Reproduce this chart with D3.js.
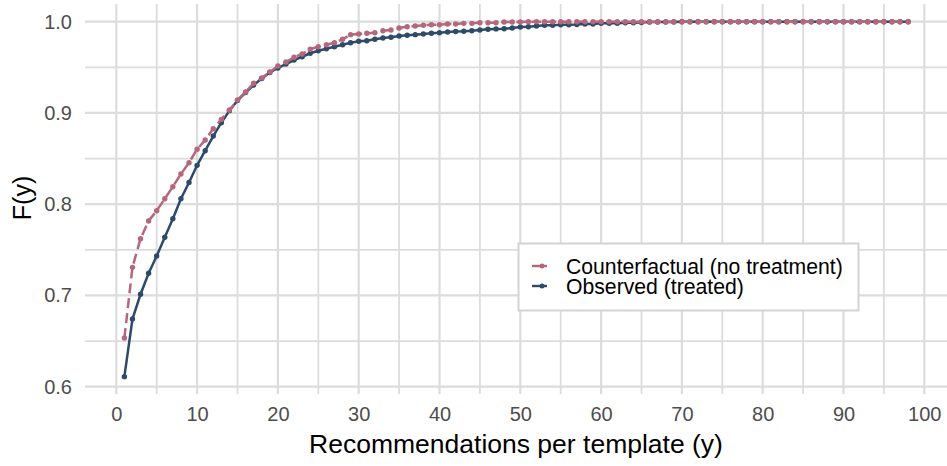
<!DOCTYPE html>
<html><head><meta charset="utf-8">
<script src="https://cdn.jsdelivr.net/npm/d3@7/dist/d3.min.js"></script>
<style>
html,body{margin:0;padding:0;background:#fff;}
svg{display:block;font-family:"Liberation Sans",Arial,Helvetica,sans-serif;}
</style></head>
<body><svg id="c" width="947" height="466"></svg>
<script>
// ---- data ----
const yValues = d3.range(1, 99); // recommendations per template 1..98
const counterfactual = [
0.6534,0.7308,0.7622,0.7816,0.7929,0.8060,0.8192,0.8331,0.8455,0.8602,
0.8704,0.8827,0.8930,0.9032,0.9142,0.9230,0.9325,0.9383,0.9449,0.9515,
0.9558,0.9610,0.9646,0.9698,0.9726,0.9748,0.9770,0.9807,0.9858,0.9865,
0.9873,0.9879,0.9901,0.9909,0.9931,0.9945,0.9953,0.9961,0.9967,0.9967,
0.9975,0.9975,0.9982,0.9982,0.9989,0.9989,0.9989,0.9997,0.9997,0.9997,
1,1,1,1,1,1,1,1,1,1,
1,1,1,1,1,1,1,1,1,1,
1,1,1,1,1,1,1,1,1,1,
1,1,1,1,1,1,1,1,1,1,
1,1,1,1,1,1,1,1];
const observed = [
0.6110,0.6742,0.7013,0.7243,0.7432,0.7637,0.7841,0.8059,0.8238,0.8426,
0.8586,0.8747,0.8893,0.9025,0.9136,0.9224,0.9306,0.9378,0.9443,0.9493,
0.9536,0.9580,0.9616,0.9654,0.9682,0.9704,0.9726,0.9748,0.9770,0.9785,
0.9792,0.9807,0.9821,0.9829,0.9843,0.9851,0.9858,0.9865,0.9873,0.9879,
0.9887,0.9892,0.9895,0.9901,0.9909,0.9917,0.9921,0.9923,0.9931,0.9942,
0.9945,0.9953,0.9961,0.9961,0.9967,0.9967,0.9970,0.9975,0.9975,0.9982,
0.9982,0.9983,0.9989,0.9989,0.9991,0.9997,0.9997,0.9997,0.9998,0.9999,
1,1,1,1,1,1,1,1,1,1,
1,1,1,1,1,1,1,1,1,1,
1,1,1,1,1,1,1,1];
const seriesNames = ["Counterfactual (no treatment)", "Observed (treated)"];
const seriesColors = ["#b5677b", "#2e4a6b"];
const xTicks = [0,10,20,30,40,50,60,70,80,90,100];
const xMinor = [5,15,25,35,45,55,65,75,85,95];
const yTicks = [0.6,0.7,0.8,0.9,1.0];
const yMinor = [0.65,0.75,0.85,0.95];
const xTitle = "Recommendations per template (y)";
const yTitle = "F(y)";

// ---- layout ----
const svg = d3.select("#c");
const panel = {left:85, right:947, top:4, bottom:392};
const x = d3.scaleLinear().domain([0,100]).range([116.3, 924.3]);
const y = d3.scaleLinear().domain([0.6,1.0]).range([386.7, 21.7]);
const gridCol = "#dcdcdc";

const g = svg.append("g");
// minor grid
g.selectAll(".ymin").data(yMinor).join("line")
  .attr("x1",panel.left).attr("x2",panel.right)
  .attr("y1",d=>y(d)).attr("y2",d=>y(d))
  .attr("stroke",gridCol).attr("stroke-width",1.8);
g.selectAll(".xmin").data(xMinor).join("line")
  .attr("y1",panel.top).attr("y2",panel.bottom+2)
  .attr("x1",d=>x(d)).attr("x2",d=>x(d))
  .attr("stroke",gridCol).attr("stroke-width",1.8);
// major grid
g.selectAll(".ymaj").data(yTicks).join("line")
  .attr("x1",panel.left).attr("x2",panel.right)
  .attr("y1",d=>y(d)).attr("y2",d=>y(d))
  .attr("stroke",gridCol).attr("stroke-width",2.2);
g.selectAll(".xmaj").data(xTicks).join("line")
  .attr("y1",panel.top).attr("y2",panel.bottom+2)
  .attr("x1",d=>x(d)).attr("x2",d=>x(d))
  .attr("stroke",gridCol).attr("stroke-width",2.2);

// axes via d3 axis (labels only)
const xAxis = d3.axisBottom(x).tickValues(xTicks).tickSize(0).tickPadding(0).tickFormat(d3.format("d"));
const gx = svg.append("g").attr("transform",`translate(0,${panel.bottom+15})`).call(xAxis);
gx.select(".domain").remove();
gx.selectAll("text").attr("font-size",20).attr("fill","#4d4d4d")
  .attr("font-family","Liberation Sans, Arial, sans-serif").attr("dy","0.71em");

const yAxis = d3.axisLeft(y).tickValues(yTicks).tickSize(0).tickPadding(0).tickFormat(d3.format(".1f"));
const gy = svg.append("g").attr("transform",`translate(72,0)`).call(yAxis);
gy.select(".domain").remove();
gy.selectAll("text").attr("font-size",20).attr("fill","#4d4d4d")
  .attr("font-family","Liberation Sans, Arial, sans-serif");

// titles
svg.append("text").attr("x",(panel.left+panel.right)/2).attr("y",452.5)
  .attr("text-anchor","middle").attr("font-size",26.5).attr("fill","#000").text(xTitle);
svg.append("text").attr("transform",`translate(30.5,${(panel.top+panel.bottom)/2}) rotate(-90)`)
  .attr("text-anchor","middle").attr("font-size",25).attr("fill","#000").text(yTitle);

// series
const series = [
  {name:seriesNames[0], vals:counterfactual, color:seriesColors[0], dash:"10,5"},
  {name:seriesNames[1], vals:observed, color:seriesColors[1], dash:null}
];
const line = d3.line().x(d=>x(d[0])).y(d=>y(d[1]));
// draw observed first, then counterfactual on top
[series[1], series[0]].forEach(s=>{
  const pts = yValues.map((v,i)=>[v, s.vals[i]]);
  svg.append("path").datum(pts).attr("d",line)
    .attr("fill","none").attr("stroke",s.color).attr("stroke-width",2.5)
    .attr("stroke-dasharray",s.dash);
  svg.append("g").selectAll("circle").data(pts).join("circle")
    .attr("cx",d=>x(d[0])).attr("cy",d=>y(d[1])).attr("r",2.7).attr("fill",s.color);
});

// legend
const lg = svg.append("g");
lg.append("rect").attr("x",518.5).attr("y",243.5).attr("width",340).attr("height",67)
  .attr("fill","#fff").attr("stroke","#d3d3d3").attr("stroke-width",2);
series.forEach((s,i)=>{
  const cy = 266 + i*20;
  lg.append("line").attr("x1",532).attr("x2",547).attr("y1",cy).attr("y2",cy)
    .attr("stroke",s.color).attr("stroke-width",2.4);
  lg.append("circle").attr("cx",542).attr("cy",cy).attr("r",2.5).attr("fill",s.color);
  lg.append("text").attr("x",566).attr("y",cy+8).attr("font-size",21.2).attr("fill","#000").text(s.name);
});
</script></body></html>
